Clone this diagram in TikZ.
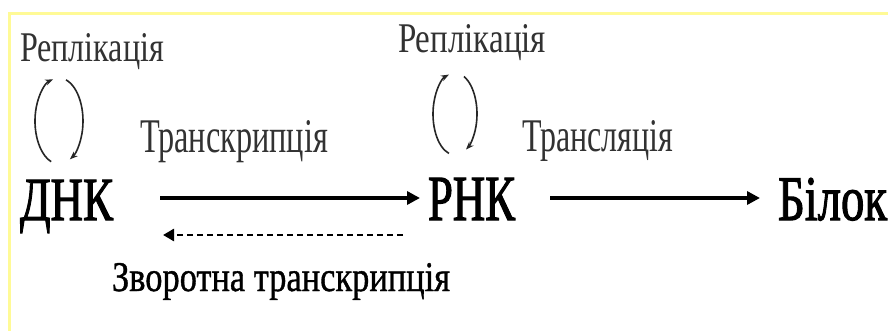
\documentclass[tikz,border=0pt]{standalone}
\usepackage{fontspec}
\usepackage{graphicx}
\setmainfont{Liberation Serif}
\newfontfamily\heavyserif[FakeBold=2]{Liberation Serif}
\newfontfamily\semiserif[FakeBold=1]{Liberation Serif}
\usetikzlibrary{arrows.meta}
\definecolor{frameyellow}{RGB}{255,250,150}
\definecolor{labelgray}{RGB}{50,50,50}
\tikzset{
  txt/.style={anchor=base west, inner sep=0pt, outer sep=0pt},
  big/.style={txt, text=black, font=\heavyserif},
  small/.style={txt, text=labelgray},
  arr/.style={line width=3.4pt, -{Triangle[length=13pt,width=13pt]}},
  darr/.style={line width=2.6pt, dash pattern=on 6pt off 4pt, -{Triangle[length=11pt,width=12pt]}},
  loopline/.style={line width=1.6pt, black!85, -{Stealth[length=8pt,width=6pt]}}
}
\begin{document}
\begin{tikzpicture}[x=1pt,y=-1pt]
\useasboundingbox (0,0) rectangle (888,331);
\fill[white] (0,0) rectangle (888,331);
\draw[frameyellow, line width=3pt] (9,331) -- (9,14) -- (888,14);

\node[big] (dnk) at (20,220) {\resizebox{93pt}{40pt}{ДНК}};
\node[big] (rnk) at (428,220) {\resizebox{87pt}{42pt}{РНК}};
\node[big] (bilok) at (778,220) {\resizebox{109pt}{42pt}{Білок}};

\node[small] (rep1) at (20,62) {\resizebox{144pt}{28pt}{Реплікація}};
\node[small] (rep2) at (398,53) {\resizebox{148pt}{28pt}{Реплікація}};
\node[small] (trk) at (140,153) {\resizebox{188pt}{32pt}{Транскрипція}};
\node[small] (trl) at (522,152) {\resizebox{151pt}{31pt}{Трансляція}};
\node[txt, text=black, font=\semiserif] (rev) at (112,291) {\resizebox{338pt}{28pt}{Зворотна транскрипція}};

\draw[arr, shorten <=47pt, shorten >=8pt] ([yshift=22pt]dnk.base east) -- ([yshift=22pt]rnk.base west);
\draw[darr, shorten <=25pt, shorten >=50pt] ([yshift=-15pt]rnk.base west) -- ([yshift=-15pt]dnk.base east);
\draw[arr, shorten <=35pt, shorten >=18pt] ([yshift=22pt]rnk.base east) -- ([yshift=22pt]bilok.base west);

\coordinate (l1) at (59,121);
\coordinate (l2) at (455,114);
\draw[loopline] (l1) ++(109:24 and 43) arc[start angle=109, end angle=256, x radius=24, y radius=43];
\draw[loopline] (l1) ++(-73:24 and 43) arc[start angle=-73, end angle=63, x radius=24, y radius=43];
\draw[loopline] (l2) ++(106:22 and 41) arc[start angle=106, end angle=254, x radius=22, y radius=41];
\draw[loopline] (l2) ++(-66:22 and 41) arc[start angle=-66, end angle=60, x radius=22, y radius=41];
\end{tikzpicture}
\end{document}
